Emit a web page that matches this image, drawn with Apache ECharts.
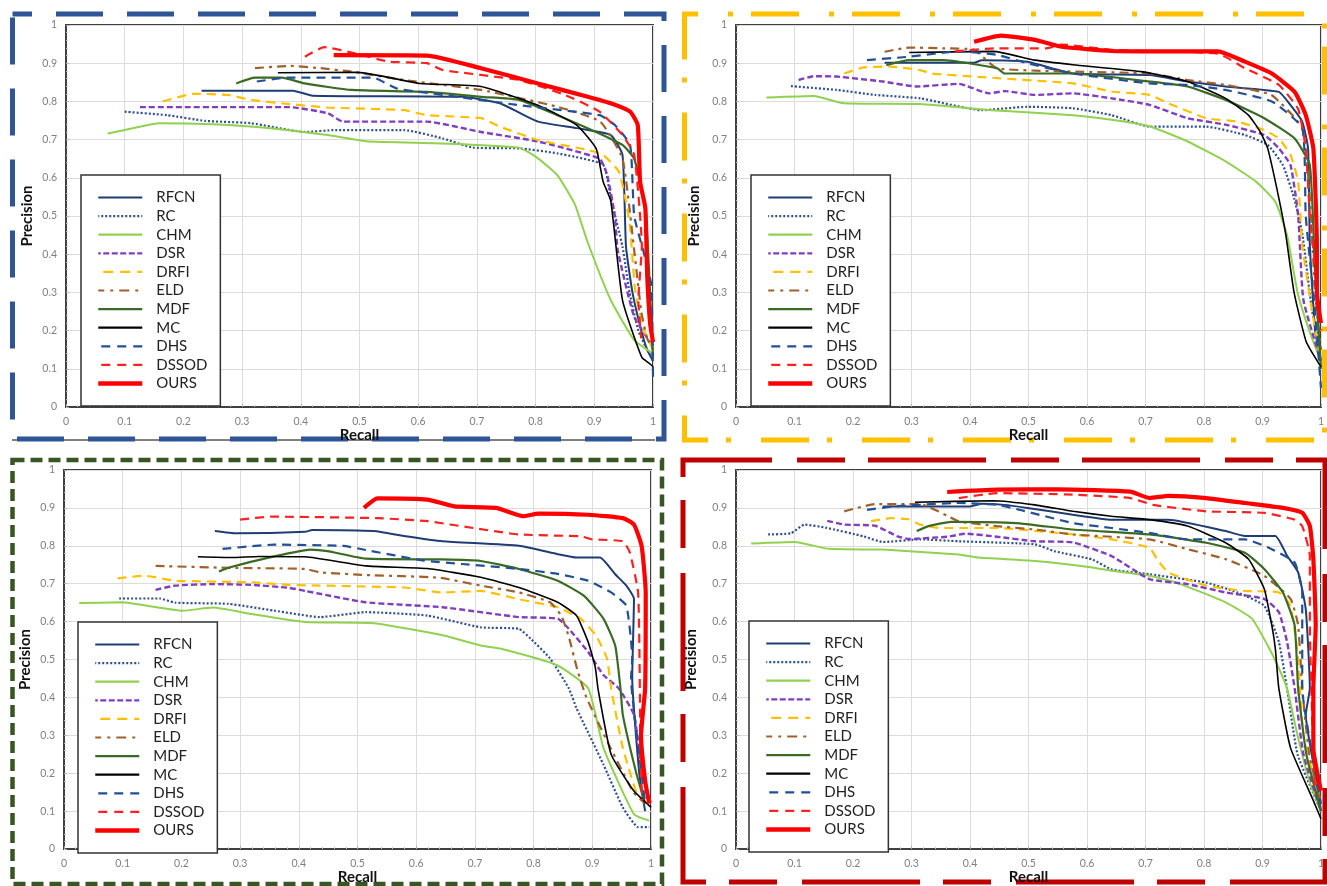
<!DOCTYPE html>
<html>
<head>
<meta charset="utf-8">
<script src="https://cdn.jsdelivr.net/npm/echarts@6/dist/echarts.min.js"></script>
<style>
html,body{margin:0;padding:0;background:#fff;}
#chart{width:1327px;height:886px;}
</style>
</head>
<body>
<div id="chart"></div>
<script>
// ---------- categories ----------
const methods = ['RFCN','RC','CHM','DSR','DRFI','ELD','MDF','MC','DHS','DSSOD','OURS'];
const xTicks = [0,0.1,0.2,0.3,0.4,0.5,0.6,0.7,0.8,0.9,1];
const yTicks = [0,0.1,0.2,0.3,0.4,0.5,0.6,0.7,0.8,0.9,1];

// ---------- top-left panel: [recall, precision] ----------
const tl_RFCN = [[0.231,0.828],[0.387,0.828],[0.42,0.815],[0.675,0.812],[0.739,0.795],[0.804,0.747],[0.87,0.73],[0.928,0.712],[0.948,0.66],[0.954,0.42],[0.965,0.3],[0.98,0.2],[0.99,0.15],[1.0,0.12]];
const tl_RC = [[0.1,0.773],[0.172,0.764],[0.237,0.749],[0.315,0.743],[0.407,0.72],[0.459,0.725],[0.576,0.725],[0.642,0.703],[0.693,0.679],[0.772,0.677],[0.837,0.664],[0.915,0.634],[0.928,0.547],[0.948,0.42],[0.96,0.3],[0.975,0.2],[0.99,0.15],[1.0,0.13]];
const tl_CHM = [[0.071,0.716],[0.1,0.725],[0.159,0.743],[0.25,0.74],[0.348,0.73],[0.446,0.712],[0.511,0.696],[0.642,0.69],[0.772,0.679],[0.804,0.651],[0.837,0.607],[0.867,0.53],[0.889,0.43],[0.928,0.28],[0.968,0.175],[1.0,0.14]];
const tl_DSR = [[0.126,0.785],[0.381,0.785],[0.446,0.769],[0.472,0.747],[0.615,0.747],[0.707,0.72],[0.804,0.695],[0.909,0.65],[0.922,0.607],[0.935,0.5],[0.94,0.41],[0.968,0.236],[1.0,0.158]];
const tl_DRFI = [[0.165,0.8],[0.218,0.82],[0.276,0.817],[0.315,0.804],[0.381,0.793],[0.446,0.784],[0.576,0.777],[0.615,0.764],[0.707,0.756],[0.739,0.734],[0.804,0.699],[0.889,0.673],[0.915,0.66],[0.942,0.616],[0.954,0.537],[0.961,0.47],[0.97,0.3],[0.985,0.2],[1.0,0.15]];
const tl_ELD = [[0.322,0.887],[0.382,0.893],[0.433,0.887],[0.486,0.878],[0.576,0.856],[0.707,0.83],[0.837,0.786],[0.91,0.747],[0.948,0.65],[0.968,0.41],[0.98,0.25],[0.99,0.18],[1.0,0.15]];
const tl_MDF = [[0.29,0.847],[0.322,0.862],[0.368,0.862],[0.407,0.847],[0.486,0.83],[0.615,0.825],[0.707,0.812],[0.772,0.804],[0.837,0.764],[0.903,0.72],[0.948,0.686],[0.968,0.65],[0.987,0.52],[0.995,0.3],[1.0,0.13]];
const tl_MC = [[0.361,0.875],[0.498,0.876],[0.603,0.847],[0.707,0.839],[0.804,0.79],[0.87,0.738],[0.903,0.677],[0.915,0.59],[0.928,0.54],[0.948,0.28],[0.981,0.13],[1.0,0.105],[1.0,0.08]];
const tl_DHS = [[0.325,0.852],[0.375,0.862],[0.524,0.862],[0.563,0.834],[0.642,0.817],[0.772,0.79],[0.909,0.764],[0.935,0.738],[0.961,0.686],[0.968,0.5],[0.985,0.4],[0.997,0.32],[1.0,0.08]];
const tl_DSSOD = [[0.407,0.917],[0.44,0.942],[0.492,0.926],[0.55,0.904],[0.615,0.9],[0.642,0.882],[0.772,0.856],[0.85,0.817],[0.909,0.773],[0.948,0.712],[0.968,0.66],[0.981,0.42],[0.975,0.28],[0.98,0.18]];
const tl_OURS = [[0.456,0.921],[0.615,0.92],[0.707,0.887],[0.804,0.847],[0.889,0.812],[0.928,0.795],[0.961,0.773],[0.974,0.738],[0.978,0.59],[0.987,0.52],[0.99,0.35],[0.995,0.22],[1.0,0.17]];

// ---------- top-right panel ----------
const tr_RFCN = [[0.254,0.901],[0.407,0.901],[0.42,0.908],[0.498,0.904],[0.576,0.873],[0.707,0.869],[0.772,0.852],[0.837,0.839],[0.928,0.825],[0.948,0.79],[0.968,0.747],[0.978,0.677],[0.981,0.424],[0.99,0.2],[1.0,0.12]];
const tr_RC = [[0.094,0.84],[0.172,0.83],[0.238,0.817],[0.315,0.808],[0.42,0.777],[0.498,0.786],[0.576,0.782],[0.642,0.764],[0.707,0.734],[0.804,0.734],[0.87,0.712],[0.909,0.686],[0.935,0.633],[0.954,0.547],[0.968,0.455],[0.985,0.25],[1.0,0.15]];
const tr_CHM = [[0.052,0.81],[0.133,0.814],[0.185,0.795],[0.315,0.793],[0.446,0.776],[0.576,0.764],[0.642,0.752],[0.707,0.735],[0.772,0.695],[0.837,0.643],[0.889,0.59],[0.922,0.537],[0.942,0.45],[0.96,0.3],[0.98,0.2],[1.0,0.12]];
const tr_DSR = [[0.107,0.856],[0.133,0.866],[0.172,0.865],[0.251,0.852],[0.309,0.839],[0.381,0.846],[0.433,0.821],[0.459,0.827],[0.511,0.817],[0.576,0.821],[0.642,0.808],[0.707,0.791],[0.772,0.756],[0.837,0.739],[0.903,0.712],[0.928,0.677],[0.948,0.633],[0.961,0.502],[0.97,0.28],[1.0,0.12]];
const tr_DRFI = [[0.185,0.873],[0.218,0.889],[0.264,0.891],[0.315,0.882],[0.335,0.873],[0.407,0.865],[0.576,0.847],[0.642,0.826],[0.707,0.817],[0.739,0.795],[0.804,0.756],[0.857,0.747],[0.903,0.725],[0.928,0.703],[0.948,0.66],[0.961,0.59],[0.968,0.424],[0.985,0.25],[1.0,0.12]];
const tr_ELD = [[0.254,0.93],[0.296,0.941],[0.354,0.939],[0.407,0.935],[0.446,0.887],[0.577,0.878],[0.707,0.873],[0.772,0.856],[0.837,0.843],[0.915,0.817],[0.968,0.73],[0.981,0.547],[0.99,0.3],[1.0,0.15]];
const tr_MDF = [[0.257,0.895],[0.296,0.908],[0.354,0.908],[0.446,0.887],[0.459,0.873],[0.576,0.873],[0.707,0.852],[0.772,0.839],[0.837,0.804],[0.903,0.756],[0.955,0.703],[0.981,0.633],[0.99,0.35],[1.0,0.1]];
const tr_MC = [[0.296,0.928],[0.44,0.931],[0.511,0.908],[0.576,0.896],[0.693,0.878],[0.772,0.852],[0.837,0.808],[0.876,0.764],[0.896,0.721],[0.909,0.677],[0.928,0.547],[0.94,0.45],[0.954,0.3],[0.975,0.17],[1.0,0.105]];
const tr_DHS = [[0.224,0.908],[0.296,0.917],[0.381,0.931],[0.446,0.922],[0.498,0.9],[0.576,0.873],[0.707,0.847],[0.772,0.843],[0.837,0.83],[0.916,0.8],[0.968,0.73],[0.974,0.5],[0.99,0.25],[1.0,0.05]];
const tr_DSSOD = [[0.374,0.931],[0.446,0.939],[0.531,0.939],[0.557,0.949],[0.642,0.935],[0.824,0.925],[0.87,0.887],[0.928,0.843],[0.961,0.78],[0.974,0.677],[0.981,0.502],[0.99,0.367],[1.0,0.2]];
const tr_OURS = [[0.407,0.956],[0.453,0.972],[0.511,0.961],[0.557,0.943],[0.642,0.932],[0.707,0.931],[0.824,0.931],[0.87,0.904],[0.916,0.873],[0.955,0.825],[0.974,0.764],[0.987,0.677],[0.993,0.424],[0.993,0.3],[1.0,0.22]];

// ---------- bottom-left panel ----------
const bl_RFCN = [[0.257,0.839],[0.293,0.833],[0.411,0.837],[0.423,0.842],[0.528,0.839],[0.579,0.826],[0.645,0.812],[0.775,0.8],[0.841,0.778],[0.873,0.769],[0.913,0.769],[0.939,0.725],[0.958,0.695],[0.971,0.66],[0.968,0.45],[0.98,0.2],[0.99,0.1]];
const bl_RC = [[0.094,0.661],[0.163,0.661],[0.189,0.65],[0.28,0.647],[0.358,0.629],[0.436,0.612],[0.514,0.625],[0.619,0.616],[0.71,0.585],[0.775,0.581],[0.795,0.555],[0.828,0.503],[0.86,0.424],[0.873,0.372],[0.919,0.223],[0.952,0.11],[0.978,0.058],[0.997,0.058]];
const bl_CHM = [[0.026,0.649],[0.097,0.651],[0.202,0.629],[0.254,0.637],[0.319,0.62],[0.411,0.599],[0.528,0.596],[0.645,0.564],[0.71,0.537],[0.743,0.529],[0.84,0.485],[0.893,0.424],[0.919,0.267],[0.971,0.092],[0.997,0.075]];
const bl_DSR = [[0.156,0.684],[0.189,0.695],[0.254,0.699],[0.319,0.697],[0.384,0.689],[0.411,0.681],[0.514,0.651],[0.645,0.638],[0.775,0.612],[0.841,0.608],[0.86,0.581],[0.893,0.52],[0.919,0.459],[0.945,0.424],[0.971,0.354],[0.985,0.2],[1.0,0.12]];
const bl_DRFI = [[0.091,0.714],[0.137,0.721],[0.189,0.708],[0.319,0.704],[0.384,0.697],[0.579,0.69],[0.645,0.677],[0.71,0.681],[0.775,0.659],[0.841,0.638],[0.88,0.608],[0.906,0.564],[0.925,0.503],[0.932,0.424],[0.952,0.267],[0.975,0.15],[0.99,0.12]];
const bl_ELD = [[0.156,0.747],[0.28,0.742],[0.411,0.739],[0.436,0.73],[0.514,0.723],[0.638,0.716],[0.71,0.695],[0.775,0.677],[0.828,0.651],[0.847,0.616],[0.86,0.56],[0.875,0.47],[0.89,0.4],[0.93,0.27],[0.97,0.15],[0.99,0.12]];
const bl_MDF = [[0.264,0.732],[0.28,0.742],[0.358,0.772],[0.42,0.79],[0.449,0.786],[0.514,0.766],[0.645,0.764],[0.71,0.76],[0.775,0.739],[0.841,0.708],[0.886,0.668],[0.919,0.608],[0.939,0.537],[0.948,0.424],[0.952,0.354],[0.975,0.2],[0.99,0.12]];
const bl_MC = [[0.228,0.771],[0.286,0.769],[0.332,0.772],[0.411,0.771],[0.514,0.747],[0.619,0.74],[0.71,0.717],[0.775,0.69],[0.841,0.651],[0.873,0.616],[0.893,0.546],[0.905,0.48],[0.91,0.42],[0.932,0.25],[0.97,0.155],[1.0,0.11]];
const bl_DHS = [[0.27,0.792],[0.358,0.803],[0.476,0.8],[0.514,0.789],[0.613,0.761],[0.678,0.752],[0.775,0.739],[0.841,0.726],[0.893,0.708],[0.932,0.677],[0.958,0.642],[0.968,0.503],[0.966,0.45],[0.98,0.25],[0.99,0.12]];
const bl_DSSOD = [[0.3,0.869],[0.352,0.877],[0.534,0.873],[0.619,0.865],[0.697,0.847],[0.775,0.83],[0.88,0.825],[0.9,0.817],[0.952,0.812],[0.964,0.782],[0.978,0.677],[0.981,0.424],[0.982,0.25],[0.985,0.128]];
const bl_OURS = [[0.511,0.9],[0.534,0.925],[0.619,0.922],[0.665,0.904],[0.736,0.9],[0.782,0.878],[0.808,0.885],[0.893,0.882],[0.952,0.873],[0.971,0.856],[0.984,0.8],[0.991,0.677],[0.99,0.424],[0.983,0.3],[0.99,0.18],[0.997,0.12]];

// ---------- bottom-right panel ----------
const br_RFCN = [[0.251,0.904],[0.401,0.904],[0.42,0.911],[0.459,0.908],[0.498,0.9],[0.576,0.882],[0.642,0.869],[0.739,0.869],[0.837,0.839],[0.87,0.826],[0.922,0.826],[0.942,0.774],[0.961,0.73],[0.974,0.633],[0.981,0.424],[0.974,0.354],[0.99,0.2],[1.0,0.1]];
const br_RC = [[0.055,0.83],[0.094,0.833],[0.117,0.856],[0.153,0.848],[0.218,0.825],[0.251,0.81],[0.315,0.817],[0.381,0.812],[0.511,0.804],[0.544,0.786],[0.609,0.764],[0.642,0.738],[0.707,0.725],[0.804,0.703],[0.857,0.677],[0.903,0.642],[0.928,0.547],[0.942,0.424],[0.96,0.25],[1.0,0.1]];
const br_CHM = [[0.026,0.806],[0.1,0.81],[0.159,0.792],[0.251,0.79],[0.381,0.777],[0.413,0.769],[0.511,0.76],[0.609,0.743],[0.642,0.734],[0.707,0.721],[0.753,0.703],[0.837,0.651],[0.882,0.608],[0.909,0.537],[0.928,0.477],[0.942,0.424],[0.96,0.3],[0.98,0.18],[1.0,0.1]];
const br_DSR = [[0.156,0.866],[0.185,0.856],[0.238,0.853],[0.276,0.825],[0.296,0.818],[0.361,0.824],[0.393,0.832],[0.446,0.824],[0.511,0.812],[0.576,0.809],[0.642,0.773],[0.707,0.712],[0.772,0.699],[0.837,0.677],[0.903,0.66],[0.928,0.625],[0.942,0.547],[0.955,0.424],[0.97,0.25],[1.0,0.1]];
const br_DRFI = [[0.231,0.865],[0.264,0.873],[0.296,0.87],[0.315,0.856],[0.348,0.847],[0.446,0.847],[0.576,0.83],[0.642,0.817],[0.707,0.795],[0.72,0.764],[0.739,0.73],[0.804,0.695],[0.87,0.681],[0.928,0.677],[0.948,0.642],[0.961,0.502],[0.97,0.3],[1.0,0.12]];
const br_ELD = [[0.185,0.891],[0.238,0.91],[0.315,0.91],[0.381,0.865],[0.446,0.852],[0.511,0.843],[0.576,0.83],[0.707,0.817],[0.772,0.791],[0.837,0.765],[0.903,0.721],[0.948,0.66],[0.961,0.59],[0.968,0.424],[0.98,0.25],[1.0,0.12]];
const br_MDF = [[0.309,0.839],[0.329,0.852],[0.368,0.863],[0.479,0.86],[0.576,0.843],[0.707,0.83],[0.804,0.808],[0.87,0.782],[0.903,0.739],[0.935,0.677],[0.955,0.59],[0.961,0.424],[0.975,0.25],[1.0,0.1]];
const br_MC = [[0.306,0.915],[0.44,0.919],[0.511,0.908],[0.576,0.891],[0.642,0.878],[0.707,0.869],[0.772,0.852],[0.837,0.808],[0.876,0.765],[0.903,0.687],[0.916,0.59],[0.922,0.529],[0.928,0.424],[0.948,0.267],[0.987,0.128],[1.0,0.08]];
const br_DHS = [[0.224,0.895],[0.27,0.904],[0.381,0.913],[0.446,0.908],[0.485,0.895],[0.576,0.86],[0.642,0.847],[0.707,0.834],[0.772,0.817],[0.87,0.817],[0.916,0.791],[0.955,0.756],[0.968,0.677],[0.968,0.424],[0.985,0.25],[1.0,0.12]];
const br_DSSOD = [[0.381,0.926],[0.446,0.939],[0.576,0.935],[0.674,0.926],[0.713,0.908],[0.804,0.891],[0.903,0.887],[0.955,0.869],[0.968,0.852],[0.981,0.774],[0.981,0.59],[0.985,0.35],[0.99,0.15]];
const br_OURS = [[0.361,0.942],[0.446,0.948],[0.551,0.949],[0.674,0.943],[0.707,0.926],[0.739,0.932],[0.804,0.926],[0.87,0.913],[0.935,0.9],[0.968,0.887],[0.981,0.852],[0.987,0.765],[0.991,0.59],[0.987,0.424],[0.987,0.267],[1.0,0.154]];

// ---------- assemble ----------
const panelData = [
  {RFCN:tl_RFCN,RC:tl_RC,CHM:tl_CHM,DSR:tl_DSR,DRFI:tl_DRFI,ELD:tl_ELD,MDF:tl_MDF,MC:tl_MC,DHS:tl_DHS,DSSOD:tl_DSSOD,OURS:tl_OURS},
  {RFCN:tr_RFCN,RC:tr_RC,CHM:tr_CHM,DSR:tr_DSR,DRFI:tr_DRFI,ELD:tr_ELD,MDF:tr_MDF,MC:tr_MC,DHS:tr_DHS,DSSOD:tr_DSSOD,OURS:tr_OURS},
  {RFCN:bl_RFCN,RC:bl_RC,CHM:bl_CHM,DSR:bl_DSR,DRFI:bl_DRFI,ELD:bl_ELD,MDF:bl_MDF,MC:bl_MC,DHS:bl_DHS,DSSOD:bl_DSSOD,OURS:bl_OURS},
  {RFCN:br_RFCN,RC:br_RC,CHM:br_CHM,DSR:br_DSR,DRFI:br_DRFI,ELD:br_ELD,MDF:br_MDF,MC:br_MC,DHS:br_DHS,DSSOD:br_DSSOD,OURS:br_OURS}
];

const lineStyles = {
  RFCN:  {color:'#1f3d73', width:2,   type:'solid',     legendType:'solid'},
  RC:    {color:'#2f4f8f', width:2.2, type:[2,2],       legendType:[2,2]},
  CHM:   {color:'#92d050', width:2,   type:'solid',     legendType:'solid'},
  DSR:   {color:'#7f3fbf', width:2.4, type:[6,3],       legendType:[6,2.5]},
  DRFI:  {color:'#ffc000', width:2.2, type:[9,6],       legendType:[10,7]},
  ELD:   {color:'#a0602d', width:2.2, type:[9,5,3,5],   legendType:[10,6,3,6]},
  MDF:   {color:'#3b6a24', width:2.2, type:'solid',     legendType:'solid'},
  MC:    {color:'#000000', width:1.6, type:'solid',     legendType:'solid'},
  DHS:   {color:'#234f96', width:2.2, type:[9,6],       legendType:[9,7]},
  DSSOD: {color:'#ff2020', width:2.2, type:[9,6],       legendType:[9,7]},
  OURS:  {color:'#ff0000', width:4.2, type:'solid',     legendType:'solid'}
};

const grids = [
  {left:66,  top:25,  width:587, height:382},
  {left:736, top:25,  width:587, height:382},
  {left:64,  top:470, width:587, height:382},
  {left:736, top:470, width:587, height:382}
];
const legendPos = [
  {left:81, top:175},
  {left:751, top:175},
  {left:78, top:622},
  {left:749, top:621}
];
const yNameGap = [31, 34, 31, 37];
const xNameGap = [18, 18, 19, 19];

const FONT = 'Lato, "Liberation Sans", sans-serif';

const xAxes = grids.map((g, i) => ({
  type:'value', gridIndex:i, min:0, max:1, interval:0.1,
  name:'Recall', nameLocation:'middle', nameGap:xNameGap[i],
  nameTextStyle:{fontFamily:FONT, fontWeight:'bold', fontSize:15, color:'#111'},
  axisLine:{show:true, lineStyle:{color:'#404040', width:2}},
  axisTick:{show:true, inside:true, length:3, lineStyle:{color:'#b0b0b0'}},
  minorTick:{show:true, splitNumber:5, length:2, lineStyle:{color:'#c0c0c0'}},
  axisLabel:{color:'#7f7f7f', fontSize:10.5, fontFamily:FONT, margin:9,
    formatter: v => xTicks.includes(+v.toFixed(1)) ? String(+v.toFixed(1)) : ''},
  splitLine:{show:true, lineStyle:{color:'#dcdcdc', width:1}}
}));
const yAxes = grids.map((g, i) => ({
  type:'value', gridIndex:i, min:0, max:1, interval:0.1,
  name:'Precision', nameLocation:'middle', nameGap:yNameGap[i], nameRotate:90,
  nameTextStyle:{fontFamily:FONT, fontWeight:'bold', fontSize:15, color:'#111'},
  axisLine:{show:true, lineStyle:{color:'#404040', width:2}},
  axisTick:{show:true, inside:true, length:3, lineStyle:{color:'#b0b0b0'}},
  minorTick:{show:true, splitNumber:5, length:2, lineStyle:{color:'#c0c0c0'}},
  axisLabel:{color:'#7f7f7f', fontSize:10.5, fontFamily:FONT, margin:9,
    formatter: v => yTicks.includes(+v.toFixed(1)) ? String(+v.toFixed(1)) : ''},
  splitLine:{show:true, lineStyle:{color:'#dcdcdc', width:1}}
}));

const series = [];
panelData.forEach((pd, p) => {
  methods.forEach((m, k) => {
    const ls = lineStyles[m];
    series.push({
      type:'line', name:m, xAxisIndex:p, yAxisIndex:p,
      data: pd[m], symbol:'none', showSymbol:false, smooth:0.15,
      lineStyle:{color:ls.color, width:ls.width, type:ls.type, cap:'butt'},
      itemStyle:{color:ls.color},
      z: 2 + k,
      silent:true
    });
  });
});

const legends = legendPos.map(pos => ({
  orient:'vertical', left:pos.left, top:pos.top,
  padding:[15, 13, 15, 15],
  itemWidth:44, itemHeight:14, itemGap:3.6,
  borderColor:'#333', borderWidth:1.5, backgroundColor:'#fff',
  selectedMode:false,
  itemStyle:{opacity:0},
  textStyle:{fontFamily:FONT, fontSize:15, color:'#222', lineHeight:14, padding:[0,0,0,9]},
  data: methods.map(m => ({name:m, lineStyle:{
    width: m === 'OURS' ? 4.5 : 2.2,
    type: lineStyles[m].legendType,
    color: lineStyles[m].color
  }}))
}));

// decorative panel frames
const graphic = [
  {type:'rect', z:-1, shape:{x:12.5, y:14, width:651.5, height:425},
   style:{fill:null, stroke:'#2f5597', lineWidth:5, lineDash:[47,24], lineDashOffset:27.5}},
  {type:'line', z:-2, shape:{x1:12, y1:440, x2:655, y2:440}, style:{stroke:'#000', lineWidth:1}},
  {type:'rect', z:-1, shape:{x:684.5, y:14, width:640, height:426},
   style:{fill:null, stroke:'#ffc000', lineWidth:5, lineDash:[48,30,5,18], lineDashOffset:34.5}},
  {type:'rect', z:-1, shape:{x:12.5, y:460, width:649.5, height:424},
   style:{fill:null, stroke:'#375623', lineWidth:4.5, lineDash:[12,6]}},
  {type:'rect', z:-1, shape:{x:683, y:460, width:642, height:422},
   style:{fill:null, stroke:'#c00000', lineWidth:5, lineDash:[118,25,48,23], lineDashOffset:29}}
];

const chart = echarts.init(document.getElementById('chart'), null, {renderer:'canvas'});
chart.setOption({
  animation:false,
  backgroundColor:'#fff',
  grid: grids.map(g => Object.assign({show:true, borderColor:'#404040', borderWidth:2, backgroundColor:'transparent'}, g)),
  xAxis: xAxes,
  yAxis: yAxes,
  legend: legends,
  graphic: graphic,
  series: series
});
</script>
</body>
</html>
